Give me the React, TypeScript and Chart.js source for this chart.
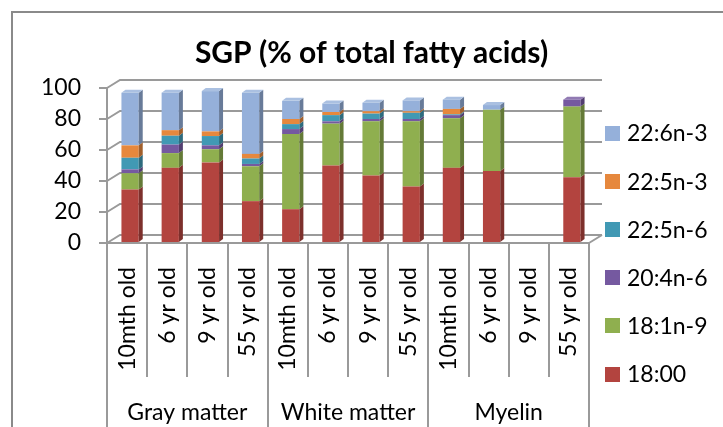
import React, { useEffect, useRef } from 'react';
import { Chart, registerables } from 'chart.js';

Chart.register(...registerables);

// ---------- data ----------
const categories = [
  '10mth old', '6 yr old', '9 yr old', '55 yr old',
  '10mth old', '6 yr old', '9 yr old', '55 yr old',
  '10mth old', '6 yr old', '9 yr old', '55 yr old',
];
const groups = ['Gray matter', 'White matter', 'Myelin'];
const yTicks = [0, 20, 40, 60, 80, 100];
const seriesNames = ['18:00', '18:1n-9', '20:4n-6', '22:5n-6', '22:5n-3', '22:6n-3'];

const s18_00 = [34.5, 48.5, 52, 27, 21.8, 50, 43.5, 36.5, 48.5, 46.5, 0, 42.5];
const s18_1n9 = [10.5, 9.5, 8.5, 22.5, 48.5, 27, 35, 42, 32, 39.5, 0, 45.5];
const s20_4n6 = [2.5, 5.5, 2.5, 1.5, 3.2, 1.5, 1.5, 1.5, 2, 0, 0, 4.5];
const s22_5n6 = [7.5, 5.7, 6, 3.5, 3.2, 4, 3.5, 4, 0.5, 0, 0, 0];
const s22_5n3 = [8, 3.6, 3, 3, 3.3, 2, 1.5, 1, 3.5, 0, 0, 0];
const s22_6n3 = [34, 24.2, 26, 39.5, 11.7, 5.5, 5.5, 7, 6, 3, 0, 0];

const seriesValues = [s18_00, s18_1n9, s20_4n6, s22_5n6, s22_5n3, s22_6n3];
const seriesColors = ['#B3443F', '#8FAF4F', '#7559A0', '#4199B4', '#E6883D', '#95B0DA'];

// ---------- style ----------
const FONT = 'Lato, "Open Sans", sans-serif';
const LINE = '#9A9A9A';
const DX = 13;
const DY = 8;
const BDX = 4;
const BDY = 3;
const SHIFT = 3;

function shade(hex: string, f: number): string {
  const n = parseInt(hex.slice(1), 16);
  let r = (n >> 16) & 255, g = (n >> 8) & 255, b = n & 255;
  if (f < 0) {
    r = Math.round(r * (1 + f)); g = Math.round(g * (1 + f)); b = Math.round(b * (1 + f));
  } else {
    r = Math.round(r + (255 - r) * f); g = Math.round(g + (255 - g) * f); b = Math.round(b + (255 - b) * f);
  }
  return `rgb(${r},${g},${b})`;
}

const threeD = {
  id: 'threeD',
  beforeDraw(chart: any) {
    const ctx = chart.ctx;
    ctx.save();
    ctx.strokeStyle = '#8A8A8A';
    ctx.lineWidth = 2;
    ctx.beginPath();
    ctx.moveTo(12, chart.height);
    ctx.lineTo(12, 12);
    ctx.lineTo(chart.width, 12);
    ctx.stroke();
    ctx.restore();
  },
  beforeDatasetsDraw(chart: any) {
    const ctx = chart.ctx;
    const { left, right, bottom } = chart.chartArea;
    const ys = chart.scales.y;
    ctx.save();
    ctx.strokeStyle = LINE;
    ctx.lineWidth = 2;
    yTicks.forEach((v) => {
      const y = Math.round(ys.getPixelForValue(v));
      ctx.beginPath();
      ctx.moveTo(left, y);
      ctx.lineTo(left + DX, y - DY);
      ctx.lineTo(right + DX, y - DY);
      ctx.stroke();
    });
    ctx.beginPath();
    ctx.moveTo(right, bottom);
    ctx.lineTo(right + DX, bottom - DY);
    ctx.stroke();
    ctx.restore();
    ctx.save();
    ctx.translate(SHIFT, 0);
  },
  afterDatasetsDraw(chart: any) {
    const ctx = chart.ctx;
    const n = categories.length;
    const topIdx: number[] = [];
    for (let j = 0; j < n; j++) {
      topIdx[j] = -1;
      seriesValues.forEach((arr, i) => { if (arr[j] > 0) topIdx[j] = i; });
    }
    seriesValues.forEach((arr, i) => {
      const meta = chart.getDatasetMeta(i);
      meta.data.forEach((bar: any, j: number) => {
        if (!(arr[j] > 0)) return;
        const { x, y, base, width } = bar.getProps(['x', 'y', 'base', 'width'], true);
        const l = x - width / 2;
        const r = x + width / 2;
        ctx.fillStyle = shade(seriesColors[i], -0.3);
        ctx.beginPath();
        ctx.moveTo(r, y);
        ctx.lineTo(r + BDX, y - BDY);
        ctx.lineTo(r + BDX, base - BDY);
        ctx.lineTo(r, base);
        ctx.closePath();
        ctx.fill();
        if (topIdx[j] === i) {
          ctx.fillStyle = shade(seriesColors[i], 0.2);
          ctx.beginPath();
          ctx.moveTo(l, y);
          ctx.lineTo(l + BDX, y - BDY);
          ctx.lineTo(r + BDX, y - BDY);
          ctx.lineTo(r, y);
          ctx.closePath();
          ctx.fill();
        }
      });
    });
    ctx.restore();
  },
  afterDraw(chart: any) {
    const ctx = chart.ctx;
    ctx.save();
    ctx.font = `23px ${FONT}`;
    ctx.textBaseline = 'alphabetic';
    ctx.textAlign = 'left';
    const order = seriesNames.map((_, i) => i).reverse();
    order.forEach((i, k) => {
      const cy = 133 + k * 48.2;
      ctx.fillStyle = seriesColors[i];
      ctx.fillRect(605, Math.round(cy - 7.5), 15, 15);
      ctx.fillStyle = '#000';
      ctx.fillText(seriesNames[i], 627, cy + 8.3);
    });
    ctx.restore();
  },
};

export default function App() {
  const ref = useRef<HTMLCanvasElement | null>(null);

  useEffect(() => {
    if (!ref.current) return;
    Chart.defaults.color = '#000';
    const chart = new Chart(ref.current, {
      type: 'bar',
      data: {
        labels: categories,
        datasets: seriesNames.map((name, i) => ({
          label: name,
          data: seriesValues[i],
          backgroundColor: seriesColors[i],
          borderWidth: 0,
          barPercentage: 0.43,
          categoryPercentage: 1,
        })),
      },
      options: {
        animation: false,
        responsive: true,
        maintainAspectRatio: false,
        layout: { padding: { left: 20, right: 0, top: 0, bottom: 0 } },
        plugins: {
          legend: { display: false },
          tooltip: { enabled: false },
          title: {
            display: true,
            text: 'SGP (% of total fatty acids)',
            color: '#000',
            font: { family: FONT, size: 30, weight: 'bold' },
            padding: { top: 35, bottom: 17 },
          },
        },
        scales: {
          x: {
            stacked: true,
            weight: 0,
            offset: true,
            grid: { drawOnChartArea: false, offset: true, tickLength: 134, color: LINE, lineWidth: 2 },
            border: { display: true, color: LINE, width: 2 },
            ticks: {
              autoSkip: false,
              minRotation: 90,
              maxRotation: 90,
              padding: -110,
              color: '#000',
              font: { family: FONT, size: 23 },
            },
            afterFit: (s: any) => { s.height = 134; },
          },
          x2: {
            type: 'category',
            position: 'bottom',
            labels: groups,
            weight: 1,
            offset: true,
            grid: { drawOnChartArea: false, offset: true, tickLength: 50, color: LINE, lineWidth: 2 },
            border: { display: false },
            ticks: { padding: -28, color: '#000', font: { family: FONT, size: 23 } },
            afterFit: (s: any) => { s.height = 50; },
          },
          y: {
            stacked: true,
            min: 0,
            max: 100,
            afterBuildTicks: (s: any) => { s.ticks = yTicks.map((v) => ({ value: v })); },
            grid: { drawOnChartArea: false, tickLength: 8, color: LINE, lineWidth: 2 },
            border: { display: true, color: LINE, width: 2 },
            ticks: { padding: 18, color: '#000', font: { family: FONT, size: 23 } },
            afterFit: (s: any) => { s.width = 87; },
          },
          y2: {
            position: 'right',
            display: true,
            grid: { display: false },
            border: { display: false },
            ticks: { display: false },
            afterFit: (s: any) => { s.width = 134; },
          },
        },
      },
      plugins: [threeD],
    } as any);
    return () => chart.destroy();
  }, []);

  return (
    <div style={{ position: 'fixed', left: 0, top: 0, width: 723, height: 427, background: '#fff' }}>
      <canvas ref={ref} />
    </div>
  );
}
